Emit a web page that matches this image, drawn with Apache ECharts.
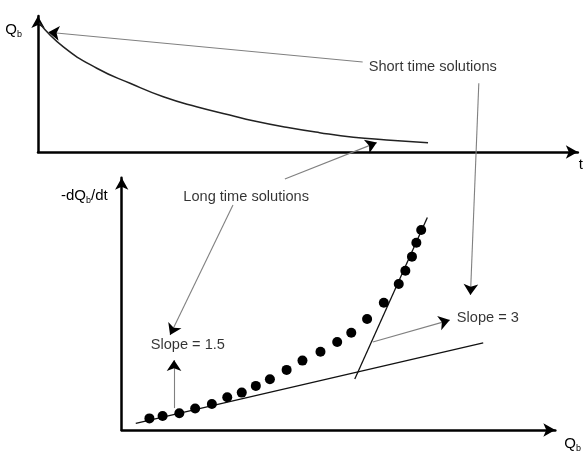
<!DOCTYPE html>
<html>
<head>
<meta charset="utf-8">
<script src="https://cdn.jsdelivr.net/npm/echarts@6/dist/echarts.min.js"></script>
<style>html,body{margin:0;padding:0;background:#fff}#c{width:584px;height:454px}</style>
</head>
<body>
<div id="c"></div>
<script>
// Top panel: Qb versus t (arbitrary units)
const qbCurve = [[0.2,91],[4.6,74.2],[10.8,59.0],[16.9,48.4],[23.0,38.9],[29.1,31.9],[35.2,26.1],[39.5,22.0],[45.6,17.4],[51.7,13.6],[57.9,10.4],[64.0,8.5],[71.6,6.5]];
// Bottom panel: -dQb/dt versus Qb (arbitrary units)
const dqDots = [[6.3,4.5],[9.3,5.4],[13.1,6.5],[16.7,8.3],[20.5,10.1],[24.0,12.7],[27.3,14.5],[30.5,17.1],[33.7,19.7],[37.5,23.3],[41.1,26.9],[45.2,30.3],[49.0,34.1],[52.2,37.7],[55.8,43.0],[59.6,49.3],[63.0,56.6],[64.5,61.7],[66.0,67.2],[67.0,72.6],[68.1,77.5]];
const slopeLow = [[3.2,2.6],[82.2,33.8]];
const slopeHigh = [[53.0,19.8],[69.5,82.4]];
// Annotation arrows (bottom-panel units)
const arrowsBottom = [
  [[57.1,34.1],[74.6,42.6]],
  [[11.9,8.5],[11.9,27.1]],
  [[25.3,87.2],[11.0,36.8]],
  [[37.1,97.3],[58.0,111.4]],
  [[81.2,134.4],[79.3,52.3]]
];
// Annotation arrows (top-panel units)
const arrowsTop = [
  [[59.6,63.4],[1.9,84.3]]
];
const textsTop = [{name:'Short time solutions', value:[60.7,60.1]}];
const textsBottom = [
  {name:'Long time solutions', value:[28.3,90.5], align:'center'},
  {name:'Slope = 1.5', value:[6.6,32.9], align:'left'},
  {name:'Slope = 3', value:[76.2,43.4], align:'left'}
];

const FONT = 'Liberation Sans, Arial, Helvetica, sans-serif';
const FS = 14.6;
function axis(grid, max, name, nameCfg) {
  return Object.assign({
    gridIndex: grid, type: 'value', min: 0, max: max,
    axisLine: {show: true, onZero: false, lineStyle: {color: '#000', width: 2.5}, symbol: ['none','arrow'], symbolSize: [10,12]},
    axisTick: {show: false}, axisLabel: {show: false}, splitLine: {show: false},
    name: name, nameLocation: 'end'
  }, nameCfg);
}
const nameRich = {b: {fontSize: 9, fontFamily: FONT, color: '#000', padding: [9,0,0,0]}, n: {fontSize: 15, fontFamily: FONT, color: '#000'}};

const chart = echarts.init(document.getElementById('c'), null, {renderer: 'canvas'});
function arrowSeries(axisIdx, list) {
  return [
    {type: 'lines', coordinateSystem: 'cartesian2d', xAxisIndex: axisIdx, yAxisIndex: axisIdx, clip: false,
     symbol: 'none', lineStyle: {color: '#808080', width: 1.1, opacity: 1, curveness: 0},
     data: list.map(c => ({coords: c})), z: 5},
    {type: 'lines', coordinateSystem: 'cartesian2d', xAxisIndex: axisIdx, yAxisIndex: axisIdx, clip: false,
     symbol: ['none','arrow'], symbolSize: [8,11],
     lineStyle: {color: '#000', width: 0.01, opacity: 1, curveness: 0},
     data: list.map(c => ({coords: c})), z: 6}
  ];
}
chart.setOption({
  animation: false,
  backgroundColor: '#fff',
  grid: [
    {left: 38, top: 16, width: 540, height: 136},
    {left: 121.7, top: 177.7, width: 434, height: 252.3}
  ],
  xAxis: [
    axis(0, 99.1, 't', {nameGap: 1, nameTextStyle: {fontSize: 15, fontFamily: FONT, color: '#000', align: 'left', verticalAlign: 'top', padding: [5,0,0,0]}}),
    axis(1, 98.6, '{n|Q}{b|b}', {nameGap: 9, nameTextStyle: {rich: nameRich, align: 'left', verticalAlign: 'top', padding: [5,0,0,0]}})
  ],
  yAxis: [
    axis(0, 95.8, '{n|Q}{b|b}', {nameGap: -14, nameTextStyle: {rich: nameRich, align: 'right', verticalAlign: 'middle', padding: [0,16,0,0]}}),
    axis(1, 97.8, '{n|-dQ}{b|b}{n|/dt}', {nameGap: -18, nameTextStyle: {rich: nameRich, align: 'right', verticalAlign: 'middle', padding: [0,14,0,0]}})
  ],
  series: [
    {type: 'line', xAxisIndex: 0, yAxisIndex: 0, data: qbCurve, smooth: true, showSymbol: false, symbol: 'none',
     lineStyle: {color: '#222', width: 1.5}, clip: false, z: 3},
    {type: 'scatter', xAxisIndex: 1, yAxisIndex: 1, data: dqDots, symbol: 'circle', symbolSize: 10,
     itemStyle: {color: '#000', opacity: 1}, z: 4},
    {type: 'line', xAxisIndex: 1, yAxisIndex: 1, data: slopeLow, showSymbol: false, symbol: 'none',
     lineStyle: {color: '#111', width: 1.3}, z: 3},
    {type: 'line', xAxisIndex: 1, yAxisIndex: 1, data: slopeHigh, showSymbol: false, symbol: 'none',
     lineStyle: {color: '#111', width: 1.3}, z: 3},
    ...arrowSeries(1, arrowsBottom),
    ...arrowSeries(0, arrowsTop),
    {type: 'scatter', xAxisIndex: 0, yAxisIndex: 0, data: textsTop, symbolSize: 0, clip: false,
     label: {show: true, position: 'right', distance: 0, formatter: '{b}', fontSize: FS, fontFamily: FONT, color: '#000'}, z: 7},
    {type: 'scatter', xAxisIndex: 1, yAxisIndex: 1, symbolSize: 0, clip: false,
     data: textsBottom.map(t => ({name: t.name, value: t.value,
       label: {position: t.align === 'center' ? 'inside' : 'right'}})),
     label: {show: true, distance: 0, formatter: '{b}', fontSize: FS, fontFamily: FONT, color: '#000'}, z: 7}
  ]
});
</script>
</body>
</html>
